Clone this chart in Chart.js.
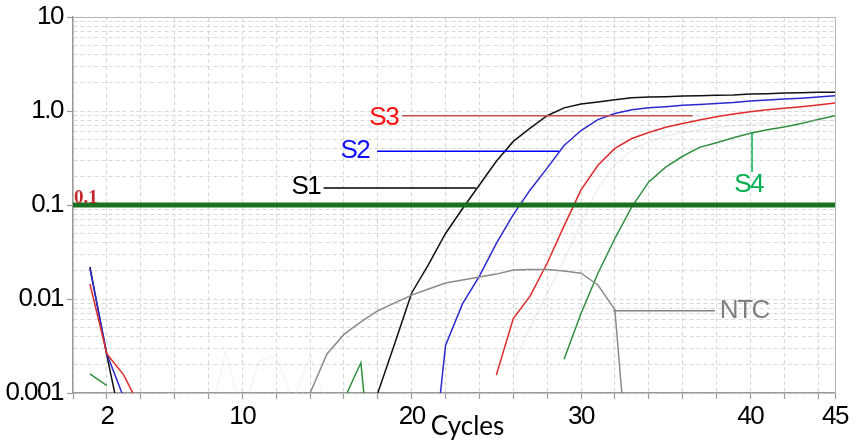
<!DOCTYPE html>
<html><head><meta charset="utf-8">
<script src="https://cdn.jsdelivr.net/npm/chart.js@4.4.1/dist/chart.umd.min.js"></script>
<style>html,body{margin:0;padding:0;background:#fff;overflow:hidden}</style>
</head><body>
<canvas id="c" width="857" height="446"></canvas>
<script>
// ---- data ----
const cycles = [1,2,3,4,5,6,7,8,9,10,11,12,13,14,15,16,17,18,19,20,21,22,23,24,25,26,27,28,29,30,31,32,33,34,35,36,37,38,39,40,41,42,43,44,45];
const S1 = [0.022,0.0025,0.00035,null,null,null,null,null,null,null,null,null,null,null,null,null,null,0.001,0.00336,0.0116,0.0234,0.0498,0.0912,0.163,0.292,0.475,0.658,0.891,1.08,1.19,1.25,1.32,1.38,1.41,1.42,1.44,1.45,1.47,1.48,1.52,1.53,1.55,1.56,1.58,1.58];
const S2 = [0.021,0.0026,0.00089,null,null,null,null,null,null,null,null,null,null,null,null,null,null,null,null,null,0.000066,0.0032,0.00887,0.0175,0.039,0.0789,0.1446,0.247,0.43,0.62,0.81,0.94,1.03,1.08,1.11,1.15,1.17,1.20,1.23,1.28,1.31,1.34,1.37,1.41,1.45];
const S3 = [0.0144,0.0026,0.00155,0.00068,null,null,null,null,null,null,null,null,null,null,null,null,null,null,null,null,null,null,null,null,0.00155,0.0062,0.0108,0.024,0.060,0.145,0.265,0.40,0.51,0.59,0.67,0.735,0.80,0.87,0.93,0.98,1.03,1.07,1.11,1.16,1.22];
const S4 = [0.0016,0.0012,null,null,null,null,null,null,null,null,null,null,null,null,null,0.00085,0.0021,0.000032,null,null,null,null,null,null,null,null,null,null,0.00228,0.0070,0.0188,0.044,0.0957,0.176,0.253,0.33,0.41,0.46,0.52,0.58,0.63,0.675,0.735,0.81,0.89];
const NTC = [null,null,null,null,null,null,null,null,null,null,null,null,null,0.001,0.0026,0.0042,0.0057,0.0075,0.0091,0.011,0.0128,0.0148,0.0159,0.0171,0.0184,0.0203,0.0206,0.0206,0.0198,0.0188,0.0141,0.0077,0.000053,null,null,null,null,null,null,null,null,null,null,null,null];
const faintRep = [null,null,null,null,null,null,null,null,null,null,null,null,null,null,null,null,null,null,null,null,null,null,null,null,null,0.002,0.005,0.0115,0.026,0.065,0.15,0.27,0.38,0.47,0.54,0.59,0.63,0.67,0.70,0.72,0.74,0.76,0.78,0.79,0.80];
const faintNoise = [null,null,null,null,null,0.0005,0.0009,0.0004,0.0028,0.0006,0.0022,0.0025,0.0008,0.0026,0.0007,null,null,null,null,null,null,null,null,null,null,null,null,null,null,null,null,null,null,null,null,null,null,null,null,null,null,null,null,null,null];
const threshold = 0.1;
const xTickValues = [0,2,4,6,8,10,12,14,16,18,20,22,24,26,28,30,32,34,36,38,40,42,44,45];
const xLabelValues = [2,10,20,30,40,45];
const yDecades = [0.001,0.01,0.1,1,10];
const yDecadeLabels = ['0.001','0.01','0.1','1.0','10'];
const yMinorSteps = [1,2,3,4,5,6,7,8,9];
const seriesNames = ['S1','S2','S3','S4','NTC'];

// ---- styles ----
const sansFam = "'Liberation Sans', Arial, sans-serif";
const tightSpacing = '-1.5px';
const tickFont = {family: sansFam, size: 26, lineHeight: 1};
const colors = {S1:'#111111', S2:'#2a2ad0', S3:'#e02a2a', S4:'#2f8f3f', NTC:'#8a8a8a'};
const textColors = {S1:'#000000', S2:'#1010ff', S3:'#ff1010', S4:'#00b050', NTC:'#808080'};
const leaderColors = {S1:'#000000', S2:'#0000ff', S3:'#c0504d', S4:'#00b050', NTC:'#808080'};
// annotation geometry in data coordinates
const notes = {
  S1: {tx:14.6, ty:0.156, align:'right', line:[[14.8,0.152],[23.8,0.152]]},
  S2: {tx:17.5, ty:0.38, align:'right', line:[[17.96,0.372],[28.7,0.372]]},
  S3: {tx:19.2, ty:0.85, align:'right', line:[[19.43,0.89],[36.6,0.89]]},
  S4: {tx:39.9, ty:0.163, align:'center', line:[[40.1,0.59],[40.1,0.224]]},
  NTC:{tx:38.2, ty:0.0075, align:'left', line:[[31.9,0.0075],[37.9,0.0075]]}
};

const yTickValues = [];
yDecades.slice(0,-1).forEach(d => yMinorSteps.forEach(m => yTickValues.push(+(d*m).toPrecision(3))));
yTickValues.push(yDecades[yDecades.length-1]);
const isDecade = v => yDecades.some(d => Math.abs(v/d - 1) < 1e-6);
const decadeLabel = v => { const i = yDecades.findIndex(d => Math.abs(v/d - 1) < 1e-6); return i >= 0 ? yDecadeLabels[i] : ''; };

const line = (label, data, color, width) => ({label, data, borderColor: color, borderWidth: width, pointRadius: 0, fill: false, tension: 0, spanGaps: false});

const spacing = {
  id: 'spacing',
  beforeLayout(chart) { chart.ctx.letterSpacing = tightSpacing; },
  beforeDraw(chart) { chart.ctx.letterSpacing = tightSpacing; }
};

const annot = {
  id: 'annot',
  afterDatasetsDraw(chart) {
    const {ctx, chartArea: a, scales: {x, y}} = chart;
    ctx.save();
    // top & right frame
    ctx.strokeStyle = '#b4b4b4'; ctx.lineWidth = 1;
    ctx.beginPath();
    ctx.moveTo(a.left, a.top + 0.5); ctx.lineTo(a.right + 0.5, a.top + 0.5); ctx.lineTo(a.right + 0.5, a.bottom);
    ctx.stroke();
    // threshold label
    ctx.letterSpacing = '0px';
    ctx.fillStyle = '#c4262b';
    ctx.font = "bold 19px 'Liberation Serif', serif";
    ctx.textAlign = 'left'; ctx.textBaseline = 'alphabetic';
    ctx.fillText('0.1', x.getPixelForValue(0) + 1, y.getPixelForValue(threshold) - 2);
    // leaders
    seriesNames.forEach(n => {
      const nt = notes[n];
      ctx.strokeStyle = leaderColors[n]; ctx.lineWidth = 1.5;
      ctx.beginPath();
      ctx.moveTo(x.getPixelForValue(nt.line[0][0]), y.getPixelForValue(nt.line[0][1]));
      ctx.lineTo(x.getPixelForValue(nt.line[1][0]), y.getPixelForValue(nt.line[1][1]));
      ctx.stroke();
      ctx.fillStyle = textColors[n];
      ctx.letterSpacing = tightSpacing;
      ctx.font = "26px " + sansFam;
      ctx.textAlign = nt.align; ctx.textBaseline = 'middle';
      ctx.fillText(n, x.getPixelForValue(nt.tx), y.getPixelForValue(nt.ty));
    });
    // axis title
    ctx.letterSpacing = '0px';
    ctx.fillStyle = '#000';
    ctx.font = "26px Lato, 'Open Sans', sans-serif";
    ctx.textAlign = 'center'; ctx.textBaseline = 'middle';
    ctx.fillText('Cycles', x.getPixelForValue(23.3), a.bottom + 34);
    ctx.restore();
  }
};

new Chart(document.getElementById('c'), {
  type: 'line',
  data: {
    labels: cycles,
    datasets: [
      Object.assign(line('threshold', [{x:0, y:threshold}, {x:45, y:threshold}], '#19701f', 5), {order: -1}),
      line('rep', faintRep, 'rgba(200,200,200,0.35)', 1.2),
      line('noise', faintNoise, 'rgba(210,210,210,0.3)', 1),
      line('NTC', NTC, colors.NTC, 1.5),
      line('S4', S4, colors.S4, 1.5),
      line('S3', S3, colors.S3, 1.5),
      line('S2', S2, colors.S2, 1.5),
      line('S1', S1, colors.S1, 1.5)
    ]
  },
  options: {
    responsive: false, animation: false, devicePixelRatio: 1,
    layout: {padding: {top: 13.5, right: 22, bottom: 0, left: 0}},
    plugins: {legend: {display: false}, tooltip: {enabled: false}},
    scales: {
      x: {
        type: 'linear', min: 0, max: 45,
        afterBuildTicks: s => { s.ticks = xTickValues.map(v => ({value: v})); },
        afterFit: s => { s.height = 53; },
        ticks: {autoSkip: false, maxRotation: 0, color: '#000', font: tickFont, padding: 5,
          callback: v => xLabelValues.includes(v) ? String(v) : ''},
        grid: {color: '#d8d8d8', lineWidth: 1, tickColor: '#9a9a9a', tickLength: 6, tickWidth: 1.2},
        border: {color: '#9a9a9a', width: 1.5, dash: [4, 3]}
      },
      y: {
        type: 'logarithmic', min: 0.001, max: 10,
        afterBuildTicks: s => { s.ticks = yTickValues.map(v => ({value: v})); },
        afterFit: s => { s.width = 73; },
        ticks: {autoSkip: false, color: '#000', font: tickFont, padding: 4,
          callback: v => decadeLabel(v)},
        grid: {color: '#d8d8d8', lineWidth: 1, tickLength: 6, tickWidth: 1.2,
          tickColor: c => (c.tick && isDecade(c.tick.value)) ? '#9a9a9a' : 'rgba(0,0,0,0)'},
        border: {color: '#9a9a9a', width: 1.5, dash: [4, 3]}
      }
    }
  },
  plugins: [spacing, annot]
});
</script>
</body></html>
